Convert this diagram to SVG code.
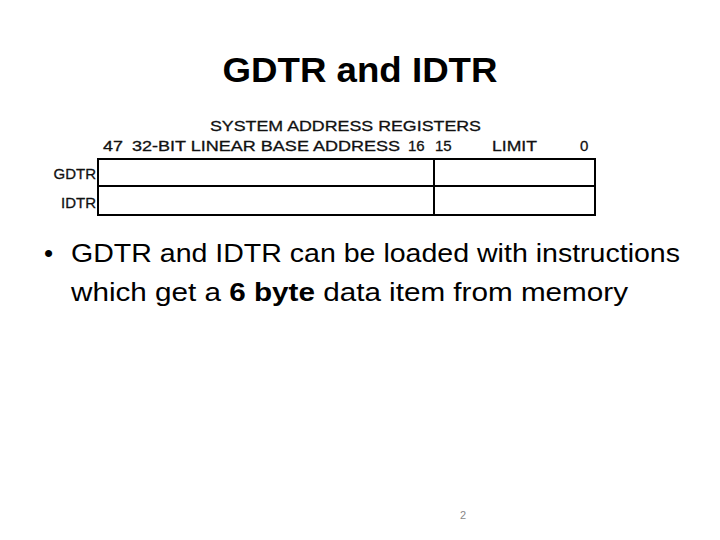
<svg xmlns="http://www.w3.org/2000/svg" width="720" height="540" viewBox="0 0 720 540">
<style>
.t{font-family:"Liberation Sans",Arial,sans-serif;fill:#000}
.d{font-family:"Liberation Sans",Arial,sans-serif;font-size:15px;fill:#111;stroke:#111;stroke-width:0.3}
.cell{fill:#fff;stroke:#000;stroke-width:2}
</style>
<rect width="720" height="540" fill="#fff"/>
<text class="t" x="360" y="82" font-size="35" font-weight="bold" text-anchor="middle" textLength="275" lengthAdjust="spacingAndGlyphs">GDTR and IDTR</text>
<g id="header">
<text class="d" x="210" y="131" textLength="271" lengthAdjust="spacingAndGlyphs">SYSTEM ADDRESS REGISTERS</text>
<text class="d" x="103" y="151" textLength="20" lengthAdjust="spacingAndGlyphs">47</text>
<text class="d" x="132" y="151" textLength="268" lengthAdjust="spacingAndGlyphs">32-BIT LINEAR BASE ADDRESS</text>
<text class="d" x="408" y="151">16</text>
<text class="d" x="435" y="151">15</text>
<text class="d" x="492" y="151" textLength="45" lengthAdjust="spacingAndGlyphs">LIMIT</text>
<text class="d" x="580" y="151">0</text>
</g>
<g id="gdtr">
<text class="d" x="96" y="179" text-anchor="end">GDTR</text>
<rect class="cell" x="98" y="159" width="336" height="27"/>
<rect class="cell" x="434" y="159" width="161" height="27"/>
</g>
<g id="idtr">
<text class="d" x="96" y="208" text-anchor="end">IDTR</text>
<rect class="cell" x="98" y="186" width="336" height="29"/>
<rect class="cell" x="434" y="186" width="161" height="29"/>
</g>
<g id="connectors"/>
<g id="bullet">
<text class="t" x="44" y="262" font-size="26">•</text>
<text class="t" x="71" y="262" font-size="26" textLength="609" lengthAdjust="spacingAndGlyphs">GDTR and IDTR can be loaded with instructions</text>
<text class="t" x="71" y="301" font-size="26" textLength="557" lengthAdjust="spacingAndGlyphs">which get a <tspan font-weight="bold">6 byte</tspan> data item from memory</text>
</g>
<text class="t" x="463" y="519" font-size="11" text-anchor="middle" style="fill:#888">2</text>
</svg>
